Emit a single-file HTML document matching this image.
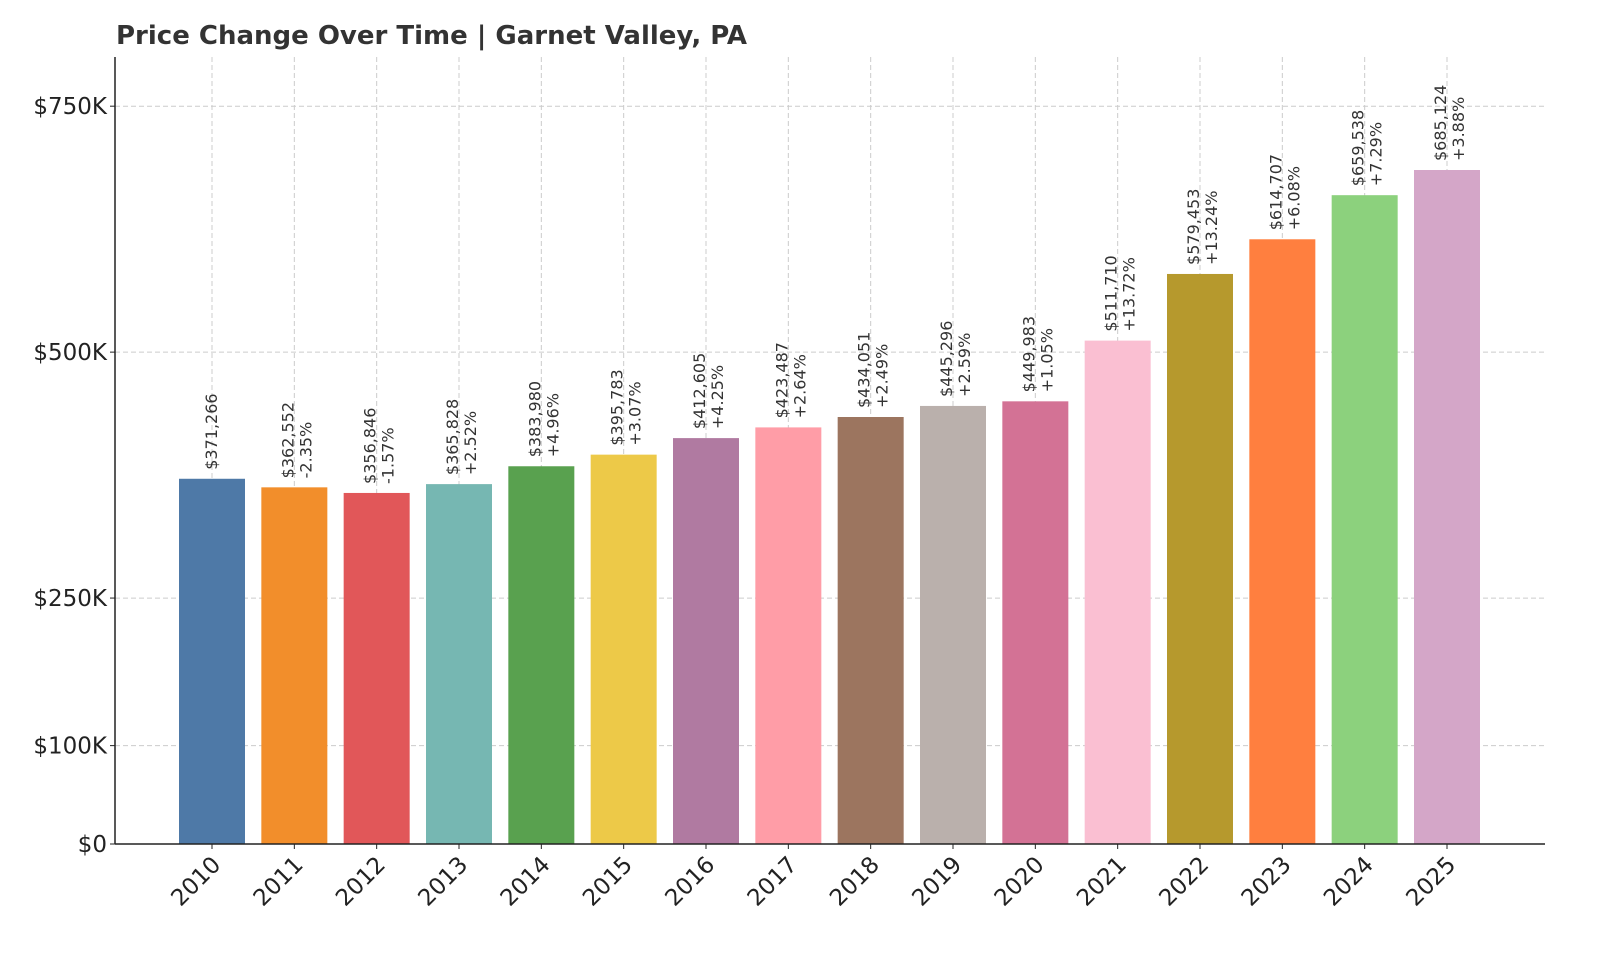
<!DOCTYPE html>
<html><head><meta charset="utf-8"><style>
html,body{margin:0;padding:0;background:#fff;}
svg{display:block;font-family:"DejaVu Sans","Liberation Sans",sans-serif;}
</style></head><body>
<svg id="chart" width="1600" height="960" viewBox="0 0 1600 960">
<text x="116" y="44" font-size="26" font-weight="bold" fill="#333">Price Change Over Time | Garnet Valley, PA</text>
<g id="grid"></g><g id="bars"></g><g id="axes"></g>
</svg>
<script>
const years = ["2010","2011","2012","2013","2014","2015","2016","2017","2018","2019","2020","2021","2022","2023","2024","2025"];
const prices = [371266,362552,356846,365828,383980,395783,412605,423487,434051,445296,449983,511710,579453,614707,659538,685124];
const changes = ["","-2.35%","-1.57%","+2.52%","+4.96%","+3.07%","+4.25%","+2.64%","+2.49%","+2.59%","+1.05%","+13.72%","+13.24%","+6.08%","+7.29%","+3.88%"];
const colors = ["#4e79a7","#f28e2b","#e15759","#76b7b2","#59a14f","#edc948","#b07aa1","#ff9da7","#9c755f","#bab0ac","#d37295","#fabfd2","#b6992d","#ff7f3f","#8cd17d","#d4a6c8"];
const yTicks = [0,100000,250000,500000,750000];
const yTickLabels = ["$0","$100K","$250K","$500K","$750K"];

const NS="http://www.w3.org/2000/svg";
const plotLeft=115,plotRight=1545,plotBottom=844,plotTop=57,yMax=800000;
function yScale(v){return plotBottom-(v/yMax)*(plotBottom-plotTop);}
function xScale(i){return 212+i*(1447-212)/15;}
const barW=66;
function mk(tag,attrs,parent){const e=document.createElementNS(NS,tag);for(const k in attrs)e.setAttribute(k,attrs[k]);parent.appendChild(e);return e;}
const gridG=document.getElementById('grid'),barsG=document.getElementById('bars'),axesG=document.getElementById('axes');

yTicks.forEach((t,i)=>{
  if(t>0){const l=mk('line',{x1:plotLeft,x2:plotRight,y1:yScale(t),y2:yScale(t),stroke:'#ccc','stroke-dasharray':'5,3','stroke-width':1},gridG);
  
  }
  const tx=mk('text',{x:plotLeft-8,y:yScale(t)+8,'text-anchor':'end','font-size':23,fill:'#222'},axesG);
  tx.textContent=yTickLabels[i];
  
  
  mk('line',{x1:plotLeft-5,x2:plotLeft,y1:yScale(t),y2:yScale(t),stroke:'#222'},axesG);
});
years.forEach((yr,i)=>{
  const cx=xScale(i);
  const g=mk('line',{x1:cx,x2:cx,y1:plotTop,y2:plotBottom,stroke:'#ccc','stroke-dasharray':'5,3','stroke-width':1},gridG);
  
  
  const r=mk('rect',{x:cx-barW/2,y:yScale(prices[i]),width:barW,height:plotBottom-yScale(prices[i]),fill:colors[i]},barsG);
  
  
  const by=yScale(prices[i])-9;
  const hasPct=changes[i]!=="";
  const vx=hasPct?cx-1:cx+5;
  const v=mk('text',{x:vx,y:by,'font-size':16,fill:'#333',transform:'rotate(-90 '+vx+' '+by+')'},barsG);
  v.textContent='$'+String(prices[i]).replace(/\B(?=(\d{3})+(?!\d))/g,',');
  
  
  if(hasPct){const px=cx+17;
    const p=mk('text',{x:px,y:by,'font-size':16,fill:'#333',transform:'rotate(-90 '+px+' '+by+')'},barsG);
    p.textContent=changes[i];
    
    }
  mk('line',{x1:cx,x2:cx,y1:plotBottom,y2:plotBottom+5,stroke:'#222'},axesG);
  const tx=cx+10,ty=plotBottom+22;
  const t=mk('text',{x:tx,y:ty,'text-anchor':'end','font-size':23,fill:'#222',transform:'rotate(-45 '+tx+' '+ty+')'},axesG);
  t.textContent=yr;
  
  
});
const ls=mk('line',{x1:plotLeft,x2:plotLeft,y1:plotTop,y2:plotBottom,stroke:'#222','stroke-width':1.5},axesG);


const bs=mk('line',{x1:plotLeft,x2:plotRight,y1:plotBottom,y2:plotBottom,stroke:'#222','stroke-width':1.5},axesG);


</script>
</body></html>
